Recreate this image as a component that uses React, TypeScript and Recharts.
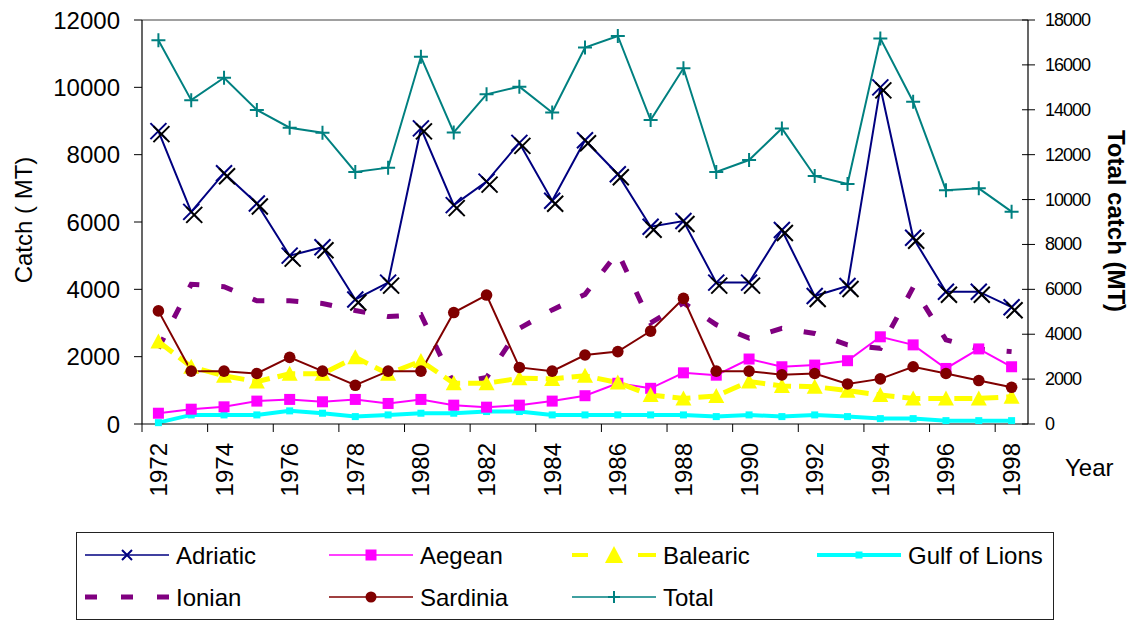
import React from 'react';
import { LineChart, Line, XAxis, YAxis, Legend, ReferenceLine, Label } from 'recharts';

const years = ['1972', '1973', '1974', '1975', '1976', '1977', '1978', '1979', '1980', '1981', '1982', '1983', '1984', '1985', '1986', '1987', '1988', '1989', '1990', '1991', '1992', '1993', '1994', '1995', '1996', '1997', '1998'];

const adriatic = [8700, 6300, 7450, 6550, 5000, 5250, 3700, 4200, 8780, 6500, 7200, 8350, 6630, 8430, 7420, 5860, 6030, 4200, 4200, 5760, 3800, 4100, 10000, 5530, 3930, 3930, 3470];
const aegean = [320, 440, 510, 680, 730, 660, 730, 610, 730, 560, 500, 560, 680, 840, 1210, 1060, 1520, 1450, 1930, 1700, 1750, 1880, 2590, 2350, 1650, 2230, 1700];
const balearic = [2450, 1700, 1430, 1260, 1490, 1490, 1980, 1490, 1870, 1210, 1210, 1360, 1340, 1430, 1230, 860, 760, 830, 1260, 1130, 1110, 990, 860, 760, 760, 760, 810];
const gulfOfLions = [40, 270, 270, 270, 390, 320, 220, 270, 320, 320, 370, 370, 270, 270, 270, 270, 270, 220, 270, 220, 270, 220, 160, 160, 100, 100, 100];
const ionian = [2250, 4150, 4080, 3660, 3660, 3580, 3370, 3190, 3250, 1200, 1380, 2840, 3390, 3850, 5100, 3000, 3600, 2950, 2550, 2840, 2690, 2350, 2250, 4060, 2500, 2230, 2150];
const sardinia = [3360, 1570, 1570, 1500, 1980, 1570, 1150, 1570, 1570, 3310, 3830, 1680, 1570, 2050, 2150, 2760, 3730, 1570, 1570, 1460, 1500, 1190, 1340, 1700, 1500, 1290, 1090];
const total = [17100, 14430, 15430, 13990, 13200, 12980, 11230, 11420, 16360, 12990, 14690, 15030, 13880, 16770, 17290, 13540, 15850, 11230, 11760, 13170, 11050, 10690, 17180, 14360, 10420, 10500, 9460];

const leftTicks = [0, 2000, 4000, 6000, 8000, 10000, 12000];
const rightTicks = [0, 2000, 4000, 6000, 8000, 10000, 12000, 14000, 16000, 18000];

const seriesNames = ['Adriatic', 'Aegean', 'Balearic', 'Gulf of Lions', 'Ionian', 'Sardinia', 'Total'];

const data = years.map((year, i) => ({
  year,
  Adriatic: adriatic[i],
  Aegean: aegean[i],
  Balearic: balearic[i],
  'Gulf of Lions': gulfOfLions[i],
  Ionian: ionian[i],
  Sardinia: sardinia[i],
  Total: total[i],
}));

const FONT = '"Liberation Sans", Arial, Helvetica, sans-serif';
const W = 1138;
const H = 621;
const LEFT_W = 142;
const RIGHT_W = 110;
const BAND = (W - LEFT_W - RIGHT_W) / years.length;

const COLORS: Record<string, string> = {
  Adriatic: '#000080',
  Aegean: '#FF00FF',
  Balearic: '#FFFF00',
  'Gulf of Lions': '#00FFFF',
  Ionian: '#800080',
  Sardinia: '#800000',
  Total: '#008080',
};

const Marker = ({ name, cx, cy }: { name: string; cx: number; cy: number }) => {
  const c = COLORS[name];
  switch (name) {
    case 'Adriatic': {
      const s = 8;
      const d = `M${cx - s},${cy - s}L${cx + s},${cy + s}M${cx - s},${cy + s}L${cx + s},${cy - s}`;
      return (
        <g>
          <path d={d} stroke={c} strokeWidth={2} fill="none" />
          <path d={d} stroke="#000" strokeWidth={2} fill="none" transform="translate(3,3)" />
        </g>
      );
    }
    case 'Aegean':
      return <rect x={cx - 5.5} y={cy - 5.5} width={11} height={11} fill={c} />;
    case 'Balearic':
      return <path d={`M${cx},${cy - 8}L${cx + 8},${cy + 7}L${cx - 8},${cy + 7}Z`} fill={c} />;
    case 'Gulf of Lions':
      return <rect x={cx - 3.5} y={cy - 3.5} width={7} height={7} fill={c} />;
    case 'Sardinia':
      return <circle cx={cx} cy={cy} r={5.8} fill={c} />;
    case 'Total':
      return <path d={`M${cx - 7},${cy}L${cx + 7},${cy}M${cx},${cy - 7}L${cx},${cy + 7}`} stroke={c} strokeWidth={2} fill="none" />;
    default:
      return null;
  }
};

const makeDot = (name: string) => (p: any) => {
  if (p.cx == null || p.cy == null) return <g key={`${name}-${p.index}`} />;
  return (
    <g key={`${name}-${p.index}`}>
      <Marker name={name} cx={p.cx} cy={p.cy} />
    </g>
  );
};

const XTick = (p: any) => {
  const { x, y, payload } = p;
  const ty = y + 19;
  return (
    <g>
      <line x1={x - BAND / 2} x2={x - BAND / 2} y1={y} y2={y + 8} stroke="#000" strokeWidth={1} />
      <text
        x={x}
        y={ty}
        transform={`rotate(-90 ${x} ${ty})`}
        textAnchor="end"
        dominantBaseline="central"
        fontSize={24}
        fontFamily={FONT}
        fill="#000"
      >
        {payload.value}
      </text>
    </g>
  );
};

const RightTick = (p: any) => {
  const { x, y, payload } = p;
  return (
    <g>
      <line x1={x - 6} x2={x + 7} y1={y} y2={y} stroke="#000" strokeWidth={1} />
      <text
        x={x + 17}
        y={y}
        textAnchor="start"
        dominantBaseline="central"
        fontSize={18}
        letterSpacing={-1}
        fontFamily={FONT}
        fill="#000"
      >
        {payload.value}
      </text>
    </g>
  );
};

const LegendIcon = ({ name, x, y }: { name: string; x: number; y: number }) => {
  const c = COLORS[name];
  const x2 = x + 84;
  const mid = x + 42;
  if (name === 'Ionian') {
    return <line x1={x} x2={x2} y1={y} y2={y} stroke={c} strokeWidth={5} strokeDasharray="12 24" />;
  }
  if (name === 'Balearic') {
    return (
      <g>
        <line x1={x} x2={x + 16} y1={y} y2={y} stroke={c} strokeWidth={4} />
        <line x1={x2 - 18} x2={x2} y1={y} y2={y} stroke={c} strokeWidth={4} />
        <path d={`M${mid},${y - 9}L${mid + 9},${y + 8}L${mid - 9},${y + 8}Z`} fill={c} />
      </g>
    );
  }
  const sw = name === 'Gulf of Lions' ? 4 : 1.5;
  let marker: React.ReactNode = null;
  if (name === 'Adriatic') {
    const s = 5;
    marker = <path d={`M${mid - s},${y - s}L${mid + s},${y + s}M${mid - s},${y + s}L${mid + s},${y - s}`} stroke={c} strokeWidth={2} />;
  } else if (name === 'Aegean') {
    marker = <rect x={mid - 5.5} y={y - 5.5} width={11} height={11} fill={c} />;
  } else if (name === 'Gulf of Lions') {
    marker = <rect x={mid - 3.5} y={y - 3.5} width={7} height={7} fill={c} />;
  } else if (name === 'Sardinia') {
    marker = <circle cx={mid} cy={y} r={5.5} fill={c} />;
  } else if (name === 'Total') {
    marker = <path d={`M${mid - 6},${y}L${mid + 6},${y}M${mid},${y - 6}L${mid},${y + 6}`} stroke={c} strokeWidth={2} />;
  }
  return (
    <g>
      <line x1={x} x2={x2} y1={y} y2={y} stroke={c} strokeWidth={sw} />
      {marker}
    </g>
  );
};

const legendLayout = [
  { name: seriesNames[0], col: 0, row: 0 },
  { name: seriesNames[1], col: 1, row: 0 },
  { name: seriesNames[2], col: 2, row: 0 },
  { name: seriesNames[3], col: 3, row: 0 },
  { name: seriesNames[4], col: 0, row: 1 },
  { name: seriesNames[5], col: 1, row: 1 },
  { name: seriesNames[6], col: 2, row: 1 },
];

const colX = [8, 252, 495, 740];
const rowY = [22, 64];

const LegendBox = () => (
  <div
    style={{
      width: 978,
      height: 88,
      border: '1.5px solid #222',
      boxSizing: 'border-box',
      background: '#fff',
    }}
  >
    <svg width={975} height={85} style={{ display: 'block' }}>
      {legendLayout.map((it) => (
        <g key={it.name}>
          <LegendIcon name={it.name} x={colX[it.col]} y={rowY[it.row]} />
          <text
            x={colX[it.col] + 91}
            y={rowY[it.row]}
            dominantBaseline="central"
            fontSize={24}
            fontFamily={FONT}
            fill="#000"
          >
            {it.name}
          </text>
        </g>
      ))}
    </svg>
  </div>
);

const leftLabel = (props: any) => {
  const vb = props.viewBox;
  const cx = vb.x + 23;
  const cy = vb.y + vb.height / 2 - 2;
  return (
    <text
      x={cx}
      y={cy}
      transform={`rotate(-90 ${cx} ${cy})`}
      textAnchor="middle"
      dominantBaseline="central"
      fontSize={24}
      fontFamily={FONT}
      fill="#000"
    >
      Catch ( MT)
    </text>
  );
};

const rightLabel = (props: any) => {
  const vb = props.viewBox;
  const cx = vb.x + 88;
  const cy = vb.y + vb.height / 2 - 1;
  return (
    <text
      x={cx}
      y={cy}
      transform={`rotate(90 ${cx} ${cy})`}
      textAnchor="middle"
      dominantBaseline="central"
      fontSize={24}
      fontWeight="bold"
      fontFamily={FONT}
      fill="#000"
    >
      Total catch (MT)
    </text>
  );
};

const yearLabel = (props: any) => {
  const vb = props.viewBox;
  return (
    <text
      x={vb.x + vb.width + 37}
      y={vb.y + 43}
      textAnchor="start"
      dominantBaseline="central"
      fontSize={24}
      fontFamily={FONT}
      fill="#000"
    >
      Year
    </text>
  );
};

export default function App() {
  return (
    <div style={{ width: W, height: H, background: '#fff', fontFamily: FONT }}>
      <style>{'body{margin:0;overflow:hidden;background:#fff}'}</style>
      <LineChart width={W} height={H} data={data} margin={{ top: 20, right: 0, bottom: 1, left: 0 }}>
        <XAxis
          dataKey="year"
          xAxisId="x"
          interval={1}
          tickSize={0}
          tickMargin={0}
          tickLine={false}
          axisLine={{ stroke: '#000', strokeWidth: 1.2 }}
          padding={{ left: BAND / 2, right: BAND / 2 }}
          height={108}
          tick={<XTick />}
        >
          <Label content={yearLabel} />
        </XAxis>
        <YAxis
          yAxisId="left"
          width={LEFT_W}
          domain={[0, 12000]}
          ticks={leftTicks}
          interval={0}
          tickSize={8}
          tickMargin={14}
          axisLine={{ stroke: '#000', strokeWidth: 1.2 }}
          tickLine={{ stroke: '#000' }}
          tick={{ fill: '#000', fontSize: 24, fontFamily: FONT }}
        >
          <Label content={leftLabel} />
        </YAxis>
        <YAxis
          yAxisId="right"
          orientation="right"
          width={RIGHT_W}
          domain={[0, 18000]}
          ticks={rightTicks}
          interval={0}
          tickSize={0}
          tickMargin={0}
          tickLine={false}
          axisLine={{ stroke: '#000', strokeWidth: 1.2 }}
          tick={<RightTick />}
        >
          <Label content={rightLabel} />
        </YAxis>
        <ReferenceLine yAxisId="left" xAxisId="x" y={12000} stroke="#808080" strokeWidth={1.5} />
        <Legend
          verticalAlign="bottom"
          align="left"
          wrapperStyle={{ left: 76, bottom: 1, width: 978, height: 88 }}
          content={() => <LegendBox />}
        />
        <Line
          yAxisId="left"
          xAxisId="x"
          dataKey="Ionian"
          stroke={COLORS.Ionian}
          strokeWidth={5}
          strokeDasharray="12 22"
          dot={false}
          activeDot={false}
          isAnimationActive={false}
        />
        <Line
          yAxisId="left"
          xAxisId="x"
          dataKey="Gulf of Lions"
          stroke={COLORS['Gulf of Lions']}
          strokeWidth={4}
          dot={makeDot('Gulf of Lions')}
          activeDot={false}
          isAnimationActive={false}
        />
        <Line
          yAxisId="left"
          xAxisId="x"
          dataKey="Aegean"
          stroke={COLORS.Aegean}
          strokeWidth={2}
          dot={makeDot('Aegean')}
          activeDot={false}
          isAnimationActive={false}
        />
        <Line
          yAxisId="left"
          xAxisId="x"
          dataKey="Balearic"
          stroke={COLORS.Balearic}
          strokeWidth={5}
          strokeDasharray="18 8"
          dot={makeDot('Balearic')}
          activeDot={false}
          isAnimationActive={false}
        />
        <Line
          yAxisId="left"
          xAxisId="x"
          dataKey="Sardinia"
          stroke={COLORS.Sardinia}
          strokeWidth={2}
          dot={makeDot('Sardinia')}
          activeDot={false}
          isAnimationActive={false}
        />
        <Line
          yAxisId="left"
          xAxisId="x"
          dataKey="Adriatic"
          stroke={COLORS.Adriatic}
          strokeWidth={2}
          dot={makeDot('Adriatic')}
          activeDot={false}
          isAnimationActive={false}
        />
        <Line
          yAxisId="right"
          xAxisId="x"
          dataKey="Total"
          stroke={COLORS.Total}
          strokeWidth={2}
          dot={makeDot('Total')}
          activeDot={false}
          isAnimationActive={false}
        />
      </LineChart>
    </div>
  );
}
